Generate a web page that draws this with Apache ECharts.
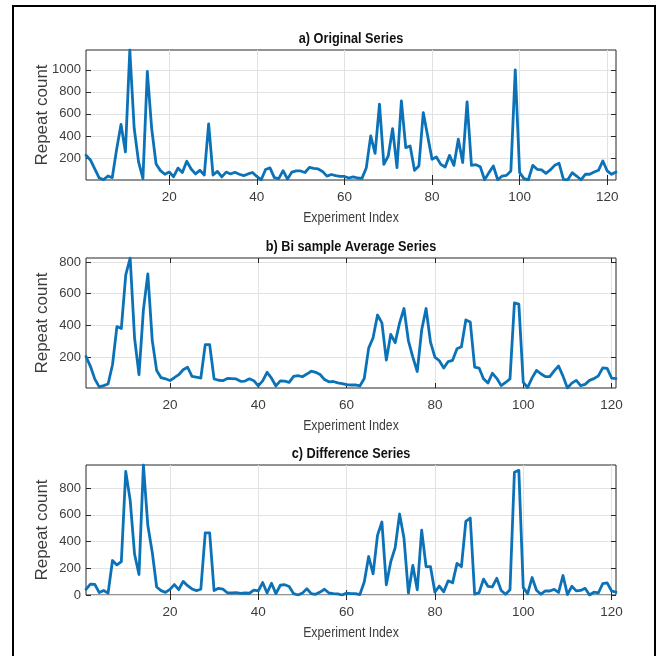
<!DOCTYPE html>
<html><head><meta charset="utf-8">
<script src="https://cdn.jsdelivr.net/npm/echarts@6/dist/echarts.min.js"></script>
<style>html,body{margin:0;padding:0;background:#fff}#c{width:664px;height:656px}</style>
</head><body><div id="c"></div>
<script>
// ---- data ----
const original = [224,182,100,20,2,36,22,280,505,255,
 1180,470,165,12,985,465,145,85,52,72,
 30,108,68,170,100,55,88,45,510,45,
 78,28,72,55,70,52,40,55,68,32,
 2,95,110,22,12,85,8,72,82,82,
 68,115,105,100,78,35,50,40,32,32,
 18,28,18,15,112,400,242,688,142,218,
 467,112,718,294,309,88,127,612,400,188,
 209,142,118,224,133,370,158,709,133,139,
 121,2,67,127,2,36,42,82,1000,67,
 12,2,133,97,91,61,91,133,152,6,
 2,67,36,2,52,52,73,88,173,82,
 52,73];
const biAverage = [203,141,60,11,19,29,151,392,380,718,
 825,318,89,499,725,305,115,69,62,51,
 69,88,119,135,78,72,67,278,278,62,
 53,50,64,63,61,46,48,62,50,17,
 49,103,66,17,49,47,40,77,82,75,
 92,110,103,89,57,43,45,36,32,25,
 23,23,17,64,256,321,465,415,180,343,
 290,415,506,302,199,108,370,506,294,199,
 176,130,171,179,252,264,434,421,136,130,
 62,35,97,65,19,39,62,541,534,40,
 7,68,115,94,76,76,112,143,79,4,
 35,52,19,27,52,63,81,131,128,67,
 63];
const difference = [42,82,80,18,34,14,258,225,250,925,
 710,305,153,973,520,320,60,33,20,42,
 78,40,102,70,45,33,43,465,465,33,
 50,44,17,15,18,12,15,13,36,30,
 93,15,88,10,73,77,64,10,0,14,
 47,10,5,22,43,15,10,8,0,14,
 10,10,3,97,288,158,446,546,76,249,
 355,606,424,15,221,39,485,212,212,21,
 67,24,106,91,237,212,551,576,6,18,
 119,65,60,125,34,6,40,918,933,55,
 10,131,36,6,30,30,42,19,146,4,
 65,31,34,50,0,21,15,85,91,30,
 21];
const titles = ['a) Original Series', 'b) Bi sample Average Series', 'c) Difference Series'];
const xLabel = 'Experiment Index';
const yLabel = 'Repeat count';
const xTicks = [20, 40, 60, 80, 100, 120];
const yTicksA = [200, 400, 600, 800, 1000];
const yTicksB = [200, 400, 600, 800];
const yTicksC = [0, 200, 400, 600, 800];
const yMinA = 0, yMinB = 4, yMinC = 0;

// ---- chart ----
const sans = "'Liberation Sans', Arial, sans-serif";
const seriesVals = [original, biAverage, difference];
const yTicks = [yTicksA, yTicksB, yTicksC];
const yMins = [yMinA, yMinB, yMinC];
const tops = [50, 258, 465];
const plotH = 130, plotL = 86, plotW = 530;
const boxColor = '#262626', gridColor = '#e2e2e2', labelColor = '#3c3c3c';
const squeeze = 0.82;

const grids = [], xAxes = [], yAxes = [], series = [], graphics = [];
seriesVals.forEach((vals, i) => {
  const xMax = vals.length;
  const yMax = Math.max.apply(null, vals);
  grids.push({left: plotL, top: tops[i], width: plotW, height: plotH, show: true,
    borderColor: boxColor, borderWidth: 1, backgroundColor: 'transparent', containLabel: false});
  const tick = {inside: true, length: 5, lineStyle: {color: boxColor, width: 1}};
  xAxes.push({gridIndex: i, type: 'value', position: 'bottom', min: 1, max: xMax,
    axisLine: {show: false},
    axisTick: Object.assign({customValues: xTicks}, tick),
    axisLabel: {customValues: xTicks, margin: 10, color: labelColor, fontFamily: sans, fontSize: 13.5,
      formatter: v => String(v)},
    splitLine: {show: true, lineStyle: {color: gridColor, width: 1}}});
  xAxes.push({gridIndex: i, type: 'value', position: 'top', min: 1, max: xMax,
    axisLine: {show: false},
    axisTick: Object.assign({customValues: xTicks}, tick),
    axisLabel: {show: false}, splitLine: {show: false}});
  yAxes.push({gridIndex: i, type: 'value', position: 'left', min: yMins[i], max: yMax,
    axisLine: {show: false},
    axisTick: Object.assign({customValues: yTicks[i]}, tick),
    axisLabel: {customValues: yTicks[i], margin: 5, color: labelColor, fontFamily: sans, fontSize: 13,
      formatter: v => String(v)},
    splitLine: {show: true, lineStyle: {color: gridColor, width: 1}},
    name: yLabel, nameLocation: 'middle', nameRotate: 90, nameGap: 35, nameMoveOverlap: false,
    nameTextStyle: {color: labelColor, fontFamily: sans, fontSize: 17}});
  yAxes.push({gridIndex: i, type: 'value', position: 'right', min: yMins[i], max: yMax,
    axisLine: {show: false},
    axisTick: Object.assign({customValues: yTicks[i]}, tick),
    axisLabel: {show: false}, splitLine: {show: false}});
  series.push({type: 'line', xAxisIndex: 2 * i, yAxisIndex: 2 * i,
    data: vals.map((v, k) => [k + 1, v]),
    symbol: 'none', showSymbol: false, clip: true,
    lineStyle: {color: '#0c72b8', width: 2.8, join: 'round', cap: 'round'}});
  graphics.push({type: 'text', x: plotL + plotW / 2, y: tops[i] - 11, scaleX: squeeze,
    style: {text: titles[i], fill: '#111', font: "bold 15.5px " + sans,
      align: 'center', verticalAlign: 'middle', textAlign: 'center', textVerticalAlign: 'middle'}});
  graphics.push({type: 'text', x: plotL + plotW / 2, y: tops[i] + plotH + 38, scaleX: squeeze,
    style: {text: xLabel, fill: labelColor, font: "15px " + sans,
      align: 'center', verticalAlign: 'middle', textAlign: 'center', textVerticalAlign: 'middle'}});
});
graphics.push({type: 'rect', shape: {x: 13, y: 6, width: 642, height: 680},
  style: {fill: 'none', stroke: '#000', lineWidth: 2}, z: 100});

const chart = echarts.init(document.getElementById('c'), null, {renderer: 'canvas'});
chart.setOption({
  animation: false,
  backgroundColor: '#fff',
  grid: grids, xAxis: xAxes, yAxis: yAxes, series: series, graphic: graphics
});
</script></body></html>
